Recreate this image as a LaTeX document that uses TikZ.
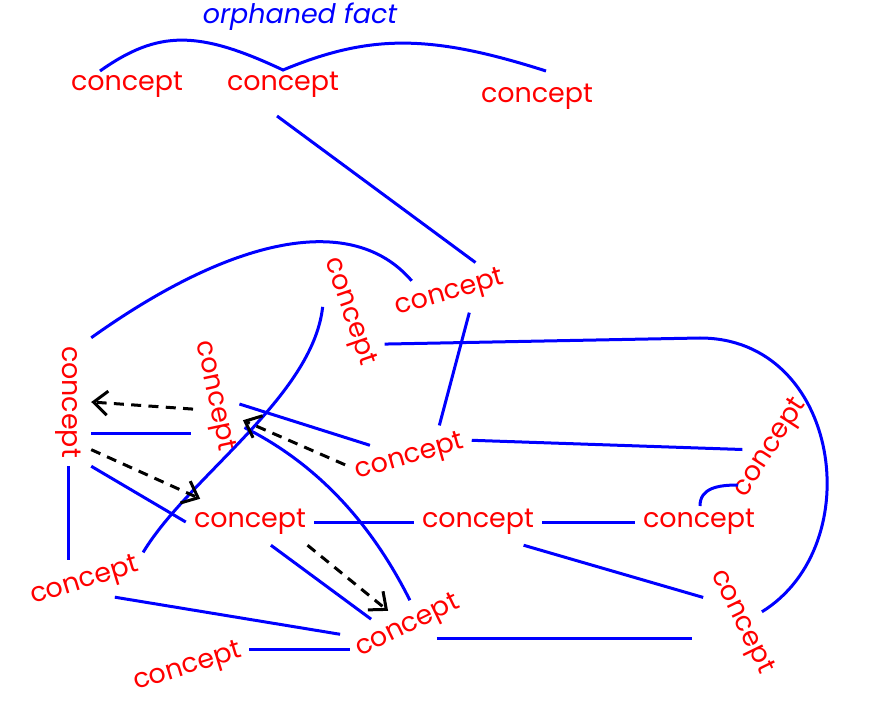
\documentclass[tikz,border=0pt]{standalone}
\usepackage{fontspec}
\setmainfont{Poppins}
\usetikzlibrary{arrows.meta}

\begin{document}
\begin{tikzpicture}[
    x=0.03cm, y=-0.03cm,
    >={Straight Barb[length=4.2mm, width=7.2mm]},
    every node/.style={font=\fontsize{23}{26}\selectfont},
    concept/.style={
        text=red, inner sep=0pt,
        minimum width=38.4mm, minimum height=13.8mm
    },
    link/.style={draw=blue, line width=0.9mm},
    hint/.style={->, draw=black, line width=0.9mm, dash pattern=on 3mm off 2.2mm}
]

\useasboundingbox (0,0) rectangle (869,712);

% Orphaned fact on top
\node[concept] (a1) at (127,85) {concept};
\node[concept] (a2) at (283,85) {concept};
\node[concept] (a3) at (537,97) {concept};
\node[text=blue, font=\fontsize{23}{26}\selectfont\itshape] (fact) at (300,17) {orphaned fact};

% Main map: concepts
\node[concept, rotate=16]  (b1) at (450,294) {concept};
\node[concept, rotate=-71] (b2) at (349,312) {concept};
\node[concept, rotate=-90] (c1) at (68,402)  {concept};
\node[concept, rotate=-78] (c2) at (214,396) {concept};
\node[concept, rotate=16]  (d1) at (410,458) {concept};
\node[concept, rotate=57]  (e1) at (771,448) {concept};
\node[concept]             (f1) at (250,522) {concept};
\node[concept]             (f2) at (478,522) {concept};
\node[concept]             (f3) at (699,522) {concept};
\node[concept, rotate=17]  (g1) at (85,582)  {concept};
\node[concept, rotate=17]  (g2) at (188,668) {concept};
\node[concept, rotate=26]  (h1) at (408,627) {concept};
\node[concept, rotate=-64] (i1) at (741,622) {concept};

% Orphaned fact: one curve through its three concepts
\draw[link] ([shift={(-27,-14)}]a1.center)
    .. controls +(58,-41) and +(-85,-40) .. ([shift={(0,-15)}]a2.center)
    .. controls +(87,-36) and +(-116,-37) .. ([shift={(9,-26)}]a3.center);

% Plain links
\draw[link] ([shift={(-6,31)}]a2.center) -- (b1.35);
\draw[link] (b1.-60) -- (d1.32);
\draw[link] (c1.north west) .. controls +(140,-100) and +(-60,-70) .. (b1.145);
\draw[link] (b2.29) -- (700,338) .. controls (840,338) and (870,545) .. (i1.north);
\draw[link] (d1.east) -- (e1.126);
\draw[link] ([shift={(1,-16)}]f3.center) .. controls +(0,-18) and +(-20,0) .. ([shift={(-33,37)}]e1.center);
\draw[link] (f1) -- (f2);
\draw[link] (f2) -- (f3);
\draw[link] (f2.-27) -- (i1.211);
\draw[link] (h1.-48) -- (h1.-48 -| i1.south west);
\draw[link] (g2.east) -- (g2.east -| h1.west);
\draw[link] (g1.-44) -- (h1.north west);
\draw[link] (f1.-48) -- (h1.142);
\draw[link] (c1.east) -- (c1.east |- g1.north);
\draw[link] (c1.north east) -- (f1.west);
\draw[link] (c1.36) -- (c1.36 -| c2.south);
\draw[link] (c2) -- (d1);
\draw[link] (g1.10) .. controls +(45,-75) and +(-10,90) .. (b2.240);
\draw[link] (c2.32) .. controls +(70,35) and +(-40,-80) .. (h1.60);

% Dashed hints
\draw[hint] (c2.-70) -- (c1.north);
\draw[hint] (d1.170) -- (c2.38);
\draw[hint] (c1.26) -- (f1.155);
\draw[hint] (f1.-22) -- (h1.115);

\end{tikzpicture}
\end{document}
